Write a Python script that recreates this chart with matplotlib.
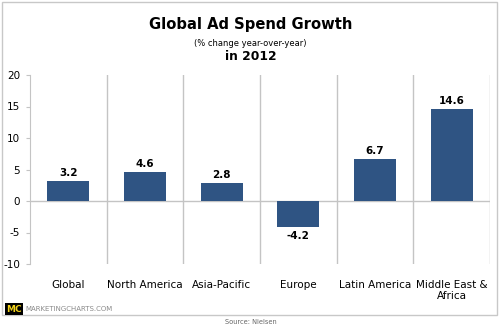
import matplotlib
matplotlib.use("Agg")
import matplotlib.pyplot as plt
from matplotlib.patches import Rectangle

# ---- data ----
regions = ["Global", "North America", "Asia-Pacific", "Europe", "Latin America", "Middle East &\nAfrica"]
growth = [3.2, 4.6, 2.8, -4.2, 6.7, 14.6]
yticks = [-10, -5, 0, 5, 10, 15, 20]

bar_color = "#2f5483"
grid_color = "#c4c4c4"

fig = plt.figure(figsize=(5.01, 3.27), dpi=100)
W, H = 501, 327

# outer frame
fig.patches.append(Rectangle((1.5 / W, 1 - 315 / H), 495.5 / W, 313.5 / H,
                             transform=fig.transFigure, fill=False,
                             edgecolor="#c8c8c8", linewidth=1.0))

ax = fig.add_axes([30 / W, 1 - 264 / H, 460 / W, 189 / H])
x = list(range(len(regions)))
ax.bar(x, growth, width=0.55, color=bar_color, zorder=3)

ax.set_xlim(-0.5, len(regions) - 0.5)
ax.set_ylim(-10, 20)
ax.set_yticks(yticks)
ax.set_yticklabels([str(t) for t in yticks], fontsize=7.5)

for s in ["top", "right", "bottom"]:
    ax.spines[s].set_visible(False)
ax.spines["left"].set_color(grid_color)
ax.tick_params(axis="y", length=3, color=grid_color, pad=4, labelcolor="black")
ax.set_xticks([])

# category separators + zero line
for b in range(1, len(regions) + 1):
    ax.axvline(b - 0.5, color=grid_color, linewidth=1.0, zorder=1)
ax.axhline(0, color=grid_color, linewidth=1.0, zorder=2)

for xi, v, name in zip(x, growth, regions):
    off = 0.5 if v >= 0 else -0.6
    ax.text(xi, v + off, f"{v:.1f}", ha="center", va="bottom" if v >= 0 else "top",
            fontsize=7.5, fontweight="bold")
    ax.text(xi, -12.6, name, ha="center", va="top", fontsize=7.5, linespacing=1.1)

# titles
fig.text(0.5, 1 - 25 / H, "Global Ad Spend Growth", ha="center", va="center",
         fontsize=10.6, fontweight="bold")
fig.text(0.5, 1 - 44 / H, "(% change year-over-year)", ha="center", va="center", fontsize=6)
fig.text(0.5, 1 - 57 / H, "in 2012", ha="center", va="center", fontsize=8.8, fontweight="bold")

# footer
fig.text(6 / W, 1 - 309 / H, "MC", ha="left", va="center", fontsize=6.5, fontweight="bold",
         color="#f2d21b", bbox=dict(boxstyle="square,pad=0.15", fc="black", ec="none"))
fig.text(25 / W, 1 - 309 / H, "MARKETINGCHARTS.COM", ha="left", va="center",
         fontsize=5, color="#8a8a8a")
fig.text(0.5, 1 - 322 / H, "Source: Nielsen", ha="center", va="center", fontsize=4.8, color="#666666")

fig.savefig("out.png", dpi=100)
